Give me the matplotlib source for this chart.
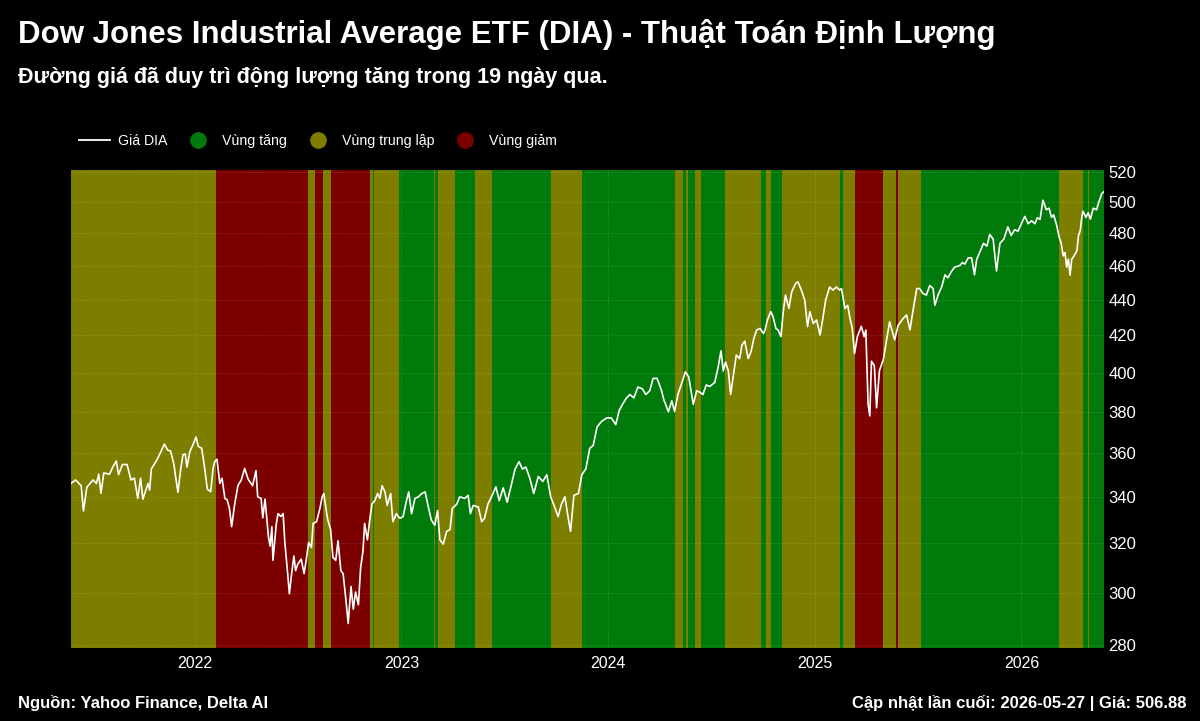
import matplotlib
matplotlib.use("Agg")
import matplotlib.pyplot as plt
import matplotlib.dates as mdates
from matplotlib.lines import Line2D
from matplotlib.ticker import FixedLocator, NullLocator, FuncFormatter
import pandas as pd

plt.rcParams['font.family'] = ['Liberation Sans', 'DejaVu Sans']

title = "Dow Jones Industrial Average ETF (DIA) - Thuật Toán Định Lượng"
subtitle = "Đường giá đã duy trì động lượng tăng trong 19 ngày qua."
source_text = "Nguồn: Yahoo Finance, Delta AI"
update_text = "Cập nhật lần cuối: 2026-05-27 | Giá: 506.88"

# DIA close
dates = [
    "2021-05-27", "2021-06-04", "2021-06-14", "2021-06-18", "2021-06-24", "2021-07-05", "2021-07-11",
    "2021-07-15", "2021-07-19", "2021-07-24", "2021-08-03", "2021-08-09", "2021-08-15", "2021-08-19",
    "2021-08-26", "2021-09-03", "2021-09-10", "2021-09-16", "2021-09-22", "2021-09-27", "2021-10-01",
    "2021-10-10", "2021-10-13", "2021-10-16", "2021-10-25", "2021-10-31", "2021-11-08", "2021-11-14",
    "2021-11-19", "2021-11-25", "2021-11-27", "2021-12-02", "2021-12-07", "2021-12-11", "2021-12-15",
    "2021-12-18", "2021-12-23", "2021-12-28", "2022-01-03", "2022-01-07", "2022-01-13", "2022-01-18",
    "2022-01-23", "2022-01-29", "2022-02-02", "2022-02-05", "2022-02-09", "2022-02-14", "2022-02-18",
    "2022-02-23", "2022-02-27", "2022-03-03", "2022-03-07", "2022-03-12", "2022-03-18", "2022-03-24",
    "2022-03-30", "2022-04-05", "2022-04-13", "2022-04-19", "2022-04-22", "2022-04-28", "2022-05-01",
    "2022-05-05", "2022-05-11", "2022-05-14", "2022-05-17", "2022-05-19", "2022-05-25", "2022-05-28",
    "2022-06-02", "2022-06-06", "2022-06-09", "2022-06-14", "2022-06-17", "2022-06-21", "2022-06-25",
    "2022-06-28", "2022-07-02", "2022-07-08", "2022-07-13", "2022-07-17", "2022-07-21", "2022-07-26",
    "2022-07-29", "2022-08-04", "2022-08-10", "2022-08-14", "2022-08-17", "2022-08-22", "2022-08-24",
    "2022-08-29", "2022-09-02", "2022-09-07", "2022-09-11", "2022-09-16", "2022-09-20", "2022-09-25",
    "2022-09-29", "2022-10-04", "2022-10-08", "2022-10-12", "2022-10-17", "2022-10-21", "2022-10-25",
    "2022-10-28", "2022-11-02", "2022-11-06", "2022-11-10", "2022-11-15", "2022-11-20", "2022-11-24",
    "2022-11-28", "2022-12-03", "2022-12-07", "2022-12-13", "2022-12-17", "2022-12-23", "2022-12-29",
    "2023-01-04", "2023-01-10", "2023-01-14", "2023-01-19", "2023-01-25", "2023-01-31", "2023-02-06",
    "2023-02-12", "2023-02-17", "2023-02-23", "2023-03-01", "2023-03-06", "2023-03-10", "2023-03-16",
    "2023-03-22", "2023-03-28", "2023-04-01", "2023-04-09", "2023-04-14", "2023-04-23", "2023-04-29",
    "2023-05-03", "2023-05-08", "2023-05-17", "2023-05-23", "2023-05-28", "2023-06-03", "2023-06-12",
    "2023-06-17", "2023-06-23", "2023-06-30", "2023-07-07", "2023-07-15", "2023-07-21", "2023-07-28",
    "2023-08-03", "2023-08-09", "2023-08-16", "2023-08-23", "2023-08-31", "2023-09-08", "2023-09-15",
    "2023-09-22", "2023-09-29", "2023-10-05", "2023-10-11", "2023-10-17", "2023-10-23", "2023-10-27",
    "2023-11-02", "2023-11-10", "2023-11-16", "2023-11-23", "2023-11-30", "2023-12-06", "2023-12-13",
    "2023-12-21", "2023-12-30", "2024-01-07", "2024-01-15", "2024-01-21", "2024-01-28", "2024-02-03",
    "2024-02-09", "2024-02-16", "2024-02-23", "2024-03-02", "2024-03-08", "2024-03-15", "2024-03-21",
    "2024-03-28", "2024-04-05", "2024-04-09", "2024-04-17", "2024-04-23", "2024-04-28", "2024-05-04",
    "2024-05-11", "2024-05-17", "2024-05-23", "2024-05-28", "2024-05-31", "2024-06-06", "2024-06-12",
    "2024-06-17", "2024-06-23", "2024-06-29", "2024-07-08", "2024-07-14", "2024-07-19", "2024-07-23",
    "2024-07-27", "2024-08-01", "2024-08-05", "2024-08-09", "2024-08-15", "2024-08-21", "2024-08-25",
    "2024-08-30", "2024-09-05", "2024-09-10", "2024-09-15", "2024-09-20", "2024-09-26", "2024-10-02",
    "2024-10-05", "2024-10-09", "2024-10-15", "2024-10-19", "2024-10-24", "2024-10-28", "2024-11-02",
    "2024-11-06", "2024-11-10", "2024-11-16", "2024-11-21", "2024-11-28", "2024-12-02", "2024-12-08",
    "2024-12-14", "2024-12-19", "2024-12-23", "2024-12-29", "2025-01-04", "2025-01-10", "2025-01-15",
    "2025-01-20", "2025-01-27", "2025-02-02", "2025-02-08", "2025-02-14", "2025-02-17", "2025-02-23",
    "2025-02-28", "2025-03-04", "2025-03-08", "2025-03-12", "2025-03-17", "2025-03-24", "2025-03-29",
    "2025-04-01", "2025-04-05", "2025-04-08", "2025-04-11", "2025-04-16", "2025-04-20", "2025-04-25",
    "2025-05-02", "2025-05-08", "2025-05-13", "2025-05-22", "2025-05-28", "2025-06-06", "2025-06-12",
    "2025-06-18", "2025-06-24", "2025-06-30", "2025-07-05", "2025-07-11", "2025-07-17", "2025-07-23",
    "2025-07-29", "2025-08-01", "2025-08-07", "2025-08-13", "2025-08-19", "2025-08-24", "2025-08-30",
    "2025-09-05", "2025-09-14", "2025-09-19", "2025-09-23", "2025-09-29", "2025-10-05", "2025-10-10",
    "2025-10-14", "2025-10-20", "2025-10-26", "2025-11-01", "2025-11-06", "2025-11-12", "2025-11-18",
    "2025-11-24", "2025-12-01", "2025-12-08", "2025-12-14", "2025-12-20", "2025-12-26", "2026-01-02",
    "2026-01-07", "2026-01-13", "2026-01-19", "2026-01-25", "2026-01-29", "2026-02-03", "2026-02-08",
    "2026-02-14", "2026-02-19", "2026-02-23", "2026-02-27", "2026-03-04", "2026-03-09", "2026-03-12",
    "2026-03-16", "2026-03-19", "2026-03-22", "2026-03-25", "2026-03-28", "2026-03-31", "2026-04-04",
    "2026-04-09", "2026-04-12", "2026-04-15", "2026-04-18", "2026-04-20", "2026-04-25", "2026-04-29",
    "2026-05-03", "2026-05-08", "2026-05-14", "2026-05-17", "2026-05-23", "2026-05-27",
]
prices = [
    346.0, 347.6, 345.0, 333.8, 344.3, 347.6, 346.0,
    350.2, 341.6, 350.8, 350.2, 353.6, 356.3, 350.0,
    354.7, 354.7, 347.6, 348.4, 339.3, 348.4, 338.9,
    346.0, 343.0, 352.6, 356.5, 359.6, 364.3, 361.4,
    361.0, 354.7, 350.7, 342.0, 352.7, 359.3, 359.6,
    353.5, 360.6, 363.6, 367.7, 363.2, 362.3, 353.5,
    343.4, 342.3, 352.7, 356.0, 357.2, 346.0, 348.4,
    339.3, 338.7, 335.0, 327.0, 336.2, 345.0, 347.6,
    352.9, 348.0, 345.0, 351.9, 340.0, 339.3, 330.8,
    339.0, 322.7, 318.8, 327.0, 312.9, 328.4, 332.6,
    331.4, 332.6, 320.3, 307.5, 299.5, 307.5, 314.7,
    308.7, 311.4, 313.4, 307.5, 313.4, 320.3, 318.2,
    328.4, 329.1, 334.9, 340.0, 341.5, 332.6, 329.8,
    325.7, 314.1, 312.9, 321.0, 308.7, 307.5, 297.0,
    288.1, 302.4, 293.5, 300.2, 295.2, 310.0, 316.4,
    328.4, 321.4, 329.8, 336.8, 338.3, 341.5, 339.3,
    345.0, 342.2, 336.2, 341.5, 329.1, 332.6, 330.6,
    331.3, 338.3, 342.2, 332.6, 339.3, 340.0, 341.5,
    342.2, 336.2, 329.8, 327.6, 334.0, 321.4, 319.6,
    325.0, 325.7, 334.9, 336.8, 340.0, 339.3, 340.7,
    332.6, 336.2, 335.5, 329.1, 330.6, 336.8, 341.5,
    344.5, 338.3, 344.0, 337.6, 346.0, 352.6, 356.0,
    352.6, 353.5, 348.4, 341.5, 349.2, 346.9, 350.0,
    340.0, 335.5, 331.3, 336.8, 340.0, 330.6, 325.0,
    340.7, 341.5, 350.0, 352.6, 362.3, 363.6, 372.6,
    375.3, 377.0, 377.0, 373.7, 380.7, 384.3, 387.0,
    388.7, 387.0, 392.5, 391.6, 388.7, 390.6, 397.0,
    397.0, 390.6, 386.0, 380.0, 385.5, 380.2, 388.9,
    394.9, 400.4, 397.7, 388.7, 383.7, 390.6, 389.8,
    388.7, 393.6, 392.8, 394.9, 403.0, 411.6, 400.9,
    405.5, 400.9, 388.7, 396.7, 409.3, 407.4, 414.7,
    416.8, 407.4, 411.0, 418.3, 422.9, 423.8, 421.0,
    422.9, 428.5, 433.2, 430.4, 423.8, 422.9, 419.3,
    433.2, 442.7, 435.0, 444.6, 449.5, 450.4, 445.6,
    439.8, 424.8, 433.2, 426.6, 428.5, 420.2, 429.4,
    439.8, 447.4, 445.6, 447.4, 445.6, 446.5, 435.0,
    436.8, 429.4, 423.8, 410.1, 419.3, 425.0, 419.3,
    422.9, 383.7, 378.0, 406.0, 403.7, 382.0, 401.0,
    407.0, 418.0, 427.5, 417.5, 425.5, 429.4, 431.3,
    423.0, 435.0, 446.5, 446.5, 443.6, 442.7, 448.3,
    446.5, 436.8, 443.0, 447.4, 454.6, 452.8, 456.4,
    459.2, 460.1, 462.0, 461.0, 464.8, 464.8, 454.6,
    463.9, 468.7, 473.7, 471.9, 479.2, 476.4, 456.9,
    473.7, 476.4, 484.0, 478.6, 482.2, 481.3, 486.9,
    490.7, 486.0, 487.9, 486.0, 489.8, 488.8, 501.2,
    495.0, 496.0, 490.1, 491.7, 485.5, 477.3, 474.2,
    466.0, 468.0, 459.2, 464.0, 454.4, 464.0, 466.0,
    469.0, 478.7, 481.8, 491.0, 494.0, 490.0, 493.0,
    489.0, 496.0, 495.0, 499.0, 505.5, 506.88,
]

# regime bands: boundaries and the state between each pair
regime_breaks = [
    "2021-05-27", "2022-02-07", "2022-07-20", "2022-08-02", "2022-08-15", "2022-08-29",
    "2022-11-07", "2022-11-11", "2022-11-14", "2022-12-27", "2023-02-27", "2023-03-02",
    "2023-03-06", "2023-04-05", "2023-05-11", "2023-06-10", "2023-09-23", "2023-11-16",
    "2024-04-29", "2024-05-13", "2024-05-18", "2024-05-21", "2024-06-03", "2024-06-13",
    "2024-07-26", "2024-09-27", "2024-10-07", "2024-10-16", "2024-11-04", "2025-02-14",
    "2025-02-19", "2025-03-12", "2025-05-02", "2025-05-25", "2025-05-27", "2025-07-08",
    "2026-03-08", "2026-04-20", "2026-04-28", "2026-04-30", "2026-05-27",
]
regime_states = [
    "neutral", "down", "neutral", "down", "neutral",
    "down", "neutral", "up", "neutral", "up", "neutral",
    "up", "neutral", "up", "neutral", "up", "neutral",
    "up", "neutral", "up", "neutral", "up", "neutral",
    "up", "neutral", "up", "neutral", "up", "neutral",
    "up", "neutral", "down", "neutral", "down", "neutral",
    "up", "neutral", "up", "neutral", "up",
]

y_ticks = [280, 300, 320, 340, 360, 380, 400, 420, 440, 460, 480, 500, 520]

colors = {"up": "#007a0a", "neutral": "#7d7d00", "down": "#7d0000"}

dates = pd.to_datetime(dates)
breaks = pd.to_datetime(regime_breaks)

fig = plt.figure(figsize=(12, 7.21), dpi=100, facecolor="black")
ax = fig.add_axes([71 / 1200, 1 - 648 / 721, (1104 - 71) / 1200, (648 - 170) / 721])
ax.set_facecolor("black")

for i, state in enumerate(regime_states):
    ax.axvspan(breaks[i], breaks[i + 1], color=colors[state], lw=0, zorder=0)

ax.plot(dates, prices, color="white", lw=1.2, zorder=3)

ax.set_yscale("log")
ax.set_ylim(279, 521.4)
ax.set_xlim(dates[0], dates[-1])
ax.yaxis.set_major_locator(FixedLocator(y_ticks))
ax.yaxis.set_minor_locator(NullLocator())
ax.yaxis.set_major_formatter(FuncFormatter(lambda v, p: f"{v:.0f}"))
ax.yaxis.tick_right()
ax.xaxis.set_major_locator(mdates.YearLocator())
ax.xaxis.set_major_formatter(mdates.DateFormatter("%Y"))
ax.tick_params(axis="y", colors="white", length=0, labelsize=12, pad=3)
ax.tick_params(axis="x", colors="white", length=0, labelsize=11.5, pad=6)
ax.grid(True, color="white", alpha=0.12, ls="--", lw=0.6)
for s in ax.spines.values():
    s.set_visible(False)

handles = [
    Line2D([], [], color="white", lw=1.3),
    Line2D([], [], ls="", marker="o", ms=11, color=colors["up"]),
    Line2D([], [], ls="", marker="o", ms=11, color=colors["neutral"]),
    Line2D([], [], ls="", marker="o", ms=11, color=colors["down"]),
]
labels = ["Giá DIA", "Vùng tăng", "Vùng trung lập", "Vùng giảm"]
fig.legend(handles, labels, loc="center left", bbox_to_anchor=(66 / 1200, 1 - 141 / 721),
           ncol=4, frameon=False, labelcolor="white", fontsize=10.2,
           handlelength=2.2, handletextpad=0.6, columnspacing=1.05)

fig.text(18 / 1200, 1 - 35 / 721, title, color="white", fontsize=22.5, weight="bold", va="center")
fig.text(18 / 1200, 1 - 78 / 721, subtitle, color="white", fontsize=15.5, weight="bold", va="center")
fig.text(18 / 1200, 1 - 703 / 721, source_text, color="white", fontsize=12, weight="bold", va="center")
fig.text(1186 / 1200, 1 - 703 / 721, update_text, color="white", fontsize=12, weight="bold",
         va="center", ha="right")

fig.savefig("out.png", dpi=100, facecolor="black")
